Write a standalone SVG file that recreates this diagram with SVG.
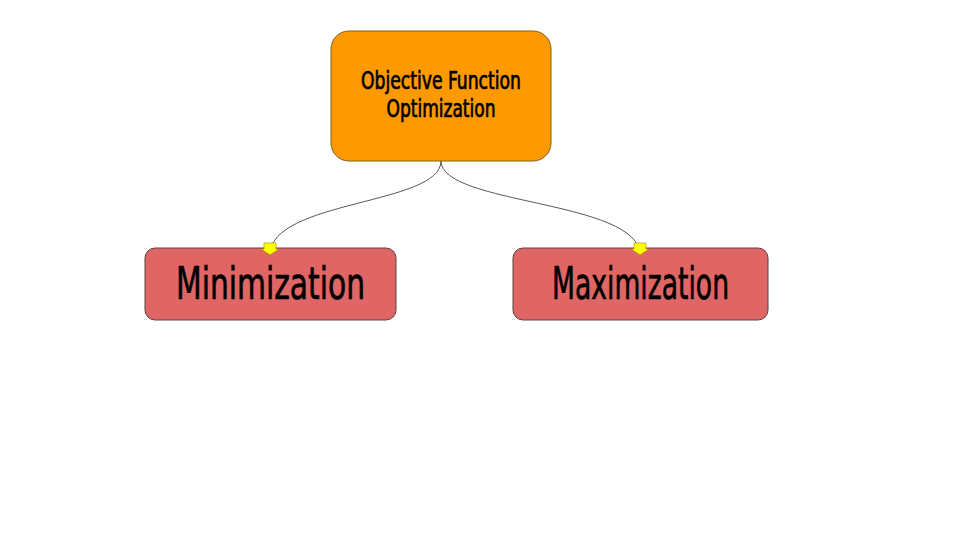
<svg xmlns="http://www.w3.org/2000/svg" width="960" height="540" viewBox="0 0 960 540">
<style>
.lbl{font-family:"DejaVu Sans Condensed","DejaVu Sans","Liberation Sans Narrow",sans-serif;font-stretch:condensed;fill:#000;stroke:#000;stroke-width:0.7;text-anchor:middle}
.edge{fill:none;stroke:#595959;stroke-width:1}
</style>
<defs>
<marker id="arr" markerUnits="userSpaceOnUse" markerWidth="30" markerHeight="30" refX="15" refY="15" orient="auto" viewBox="0 0 30 30">
<polygon points="15,15 9,24 9,21 3,21 3,9 9,9 9,6" fill="#ffff00" stroke="#8a8a00" stroke-width="0.6"/>
</marker>
</defs>
<rect width="960" height="540" fill="#fff"/>
<g id="node-objective">
<rect x="331" y="31" width="220" height="130" rx="18" fill="#ff9900" stroke="#7f5f1f" stroke-width="1"/>
<text class="lbl" x="441" y="89" font-size="24" stroke-width="0.5" textLength="160" lengthAdjust="spacingAndGlyphs">Objective Function</text>
<text class="lbl" x="441" y="117" font-size="24" stroke-width="0.5" textLength="109" lengthAdjust="spacingAndGlyphs">Optimization</text>
</g>
<g id="node-min">
<rect x="145" y="248" width="251" height="72" rx="10" fill="#e06666" stroke="#5f4040" stroke-width="1"/>
<text class="lbl" x="270.5" y="299" font-size="45" textLength="189" lengthAdjust="spacingAndGlyphs">Minimization</text>
</g>
<g id="node-max">
<rect x="513" y="248" width="255" height="72" rx="10" fill="#e06666" stroke="#5f4040" stroke-width="1"/>
<text class="lbl" x="640.5" y="299" font-size="45" textLength="177" lengthAdjust="spacingAndGlyphs">Maximization</text>
</g>
<g id="connectors">
<path class="edge" d="M441,161 C441,205 270,200 270,255" marker-end="url(#arr)"/>
<path class="edge" d="M441,161 C441,205 640,200 640,255" marker-end="url(#arr)"/>
</g>
</svg>
